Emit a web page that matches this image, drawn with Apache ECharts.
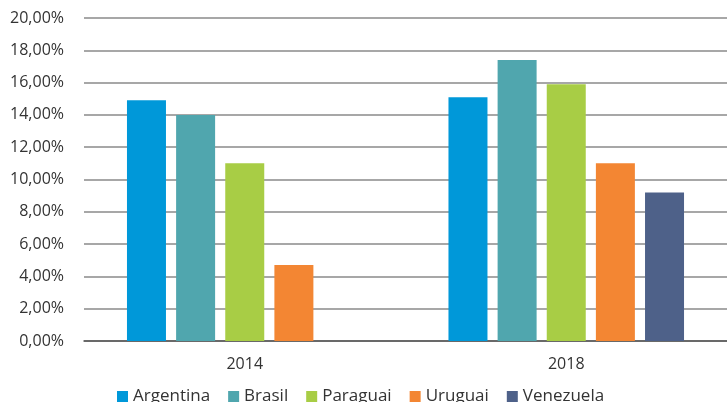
<!DOCTYPE html>
<html lang="en">
<head>
  <meta charset="UTF-8">
  <title>Chart</title>
  <style type="text/css">
    html, body { margin: 0; padding: 0; background: #fff; }
    #chart { width: 727px; height: 402px; }
  </style>
</head>
<body>
  <div id="chart"></div>
  <script src="https://cdn.jsdelivr.net/npm/echarts@6/dist/echarts.min.js"></script>
  <script>
    const years = ['2014', '2018']
    const argentina = [14.9, 15.1]
    const brasil = [14.0, 17.4]
    const paraguai = [11.0, 15.9]
    const uruguai = [4.7, 11.0]
    const venezuela = [null, 9.2]

    const names = ['Argentina', 'Brasil', 'Paraguai', 'Uruguai', 'Venezuela']
    const values = [argentina, brasil, paraguai, uruguai, venezuela]
    const colors = ['#0098d9', '#50a6ae', '#a8cd45', '#f38633', '#4e6189']

    const font = 'Myriad Pro, "Open Sans", "Noto Sans", sans-serif'

    const chart = echarts.init(document.getElementById('chart'))

    chart.setOption({
      animation: false,
      grid: { left: 84, right: -3, top: 18, bottom: 61 },
      legend: {
        left: 112,
        top: 383,
        itemWidth: 11,
        itemHeight: 11,
        itemGap: 18,
        icon: 'rect',
        textStyle: { fontFamily: font, fontSize: 17, color: '#333' },
        data: names
      },
      xAxis: {
        type: 'category',
        data: years,
        axisTick: { show: false },
        axisLine: { lineStyle: { color: '#555', width: 1.5 } },
        axisLabel: { fontFamily: font, fontSize: 16, color: '#333', margin: 15 }
      },
      yAxis: {
        type: 'value',
        min: 0,
        max: 20,
        interval: 2,
        axisLine: { show: false },
        axisTick: { show: false },
        splitLine: { lineStyle: { color: '#8a8a8a', width: 1.5 } },
        axisLabel: {
          fontFamily: font,
          fontSize: 16,
          color: '#333',
          margin: 20,
          formatter: v => v.toFixed(2).replace('.', ',') + '%'
        }
      },
      series: names.map((name, i) => ({
        name,
        type: 'bar',
        data: values[i],
        barWidth: 39,
        barGap: '26%',
        itemStyle: { color: colors[i] }
      }))
    })
  </script>
</body>
</html>
